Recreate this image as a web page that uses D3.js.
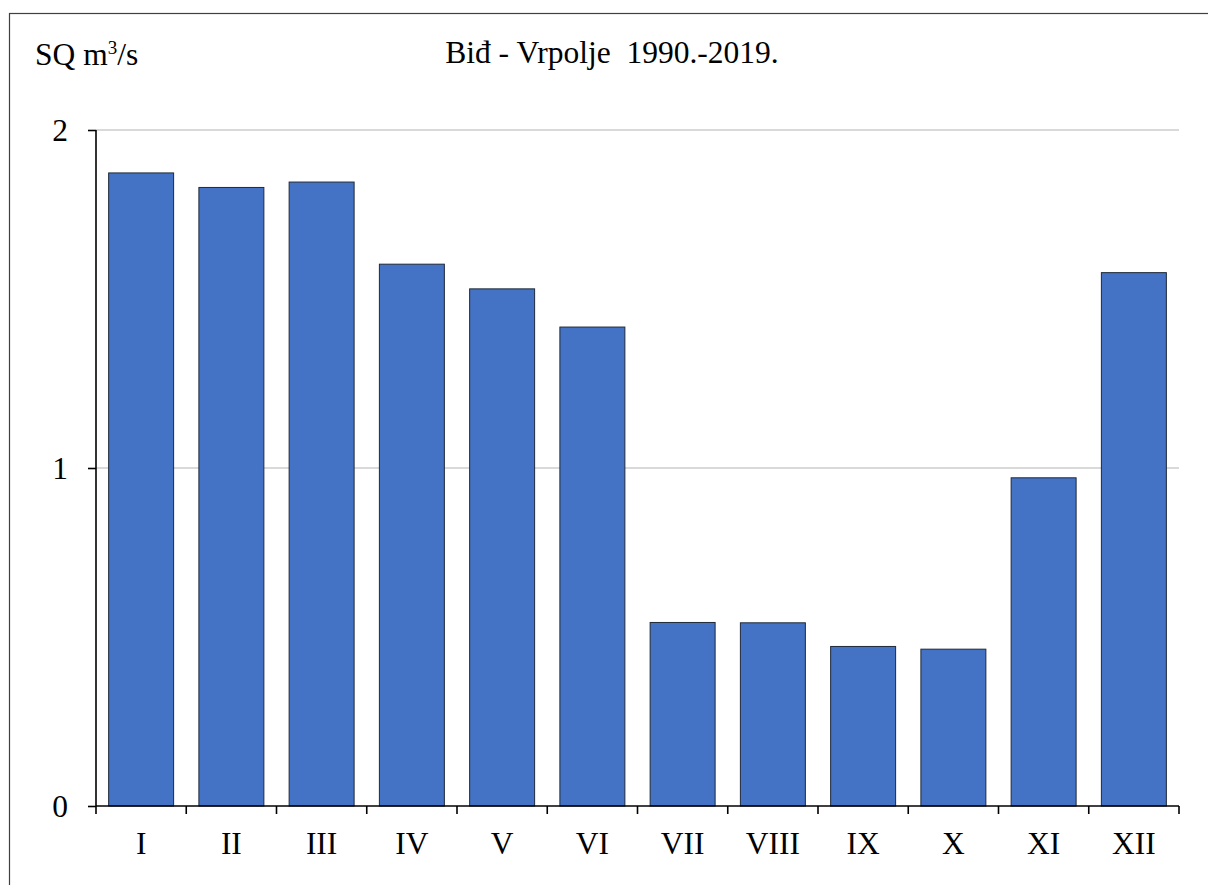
<!DOCTYPE html>
<html>
<head>
<meta charset="utf-8">
<script src="https://cdn.jsdelivr.net/npm/d3@7"></script>
<style>
  body { margin: 0; background: #fff; }
  text { font-family: "Liberation Serif", "Times New Roman", serif; fill: #000; }
</style>
</head>
<body>
<script>
// monthly mean discharge, Biđ - Vrpolje
var months = ["I", "II", "III", "IV", "V", "VI", "VII", "VIII", "IX", "X", "XI", "XII"];
var flows = [1.873, 1.830, 1.846, 1.603, 1.530, 1.417, 0.543, 0.542, 0.472, 0.464, 0.971, 1.578];
var yTicks = [0, 1, 2];

var W = 1208, H = 885;
var margin = {top: 130, right: 29, bottom: 79, left: 96},
    w = W - margin.left - margin.right,
    h = H - margin.top - margin.bottom;
var fs = "31.5px";

var svg = d3.select("body").append("svg")
    .attr("width", W)
    .attr("height", H);

// outer frame
svg.append("rect")
    .attr("x", 9.5).attr("y", 13.5)
    .attr("width", W).attr("height", H)
    .attr("fill", "none")
    .attr("stroke", "#404040")
    .attr("stroke-width", 1.2);

svg.append("text")
    .attr("x", 35).attr("y", 65)
    .style("font-size", fs)
    .html('SQ m<tspan dy="-11" style="font-size:19px">3</tspan><tspan dy="11">/s</tspan>');

svg.append("text")
    .attr("x", 612).attr("y", 63)
    .attr("text-anchor", "middle")
    .style("font-size", fs)
    .style("white-space", "pre")
    .text("Biđ - Vrpolje  1990.-2019.");

var g = svg.append("g")
    .attr("transform", "translate(" + margin.left + "," + margin.top + ")");

var xScale = d3.scaleBand()
    .domain(months)
    .range([0, w])
    .paddingInner(0.28)
    .paddingOuter(0.14);

var xTickScale = d3.scaleLinear().domain([0, months.length]).range([0, w]);

var yScale = d3.scaleLinear()
    .domain([0, 2])
    .range([h, 0]);

// gridlines
g.selectAll(".grid")
    .data(yTicks.filter(function(d) { return d > 0; }))
  .enter().append("line")
    .attr("x1", 0).attr("x2", w)
    .attr("y1", function(d) { return yScale(d); })
    .attr("y2", function(d) { return yScale(d); })
    .attr("stroke", "#b3b3b3")
    .attr("stroke-width", 1.2);

g.selectAll(".bar")
    .data(flows)
  .enter().append("rect")
    .attr("x", function(d, i) { return xScale(months[i]); })
    .attr("y", function(d) { return yScale(d); })
    .attr("width", xScale.bandwidth())
    .attr("height", function(d) { return h - yScale(d); })
    .attr("fill", "#4472C4")
    .attr("stroke", "#1f2a3a")
    .attr("stroke-width", 1);

// y axis
var yAxis = d3.axisLeft(yScale).tickValues(yTicks).tickSize(8).tickPadding(20).tickFormat(d3.format("d"));
var ya = g.append("g").call(yAxis);
ya.attr("font-family", null);
ya.select(".domain").attr("stroke", "#000").attr("stroke-width", 1.6).attr("d", "M0," + h + "V0");
ya.selectAll(".tick line").attr("stroke", "#000").attr("stroke-width", 1.6);
ya.selectAll(".tick text").style("font-size", fs).attr("fill", "#000");

// x axis: ticks at band boundaries, labels at band centers
var xa = g.append("g").attr("transform", "translate(0," + h + ")");
xa.append("line")
    .attr("x1", 0).attr("x2", w)
    .attr("stroke", "#000").attr("stroke-width", 1.6);
xa.selectAll(".xt")
    .data(d3.range(months.length + 1))
  .enter().append("line")
    .attr("x1", function(d) { return xTickScale(d); })
    .attr("x2", function(d) { return xTickScale(d); })
    .attr("y1", 0).attr("y2", 8)
    .attr("stroke", "#000").attr("stroke-width", 1.6);
xa.selectAll(".xl")
    .data(months)
  .enter().append("text")
    .attr("x", function(d) { return xScale(d) + xScale.bandwidth() / 2; })
    .attr("y", 48)
    .attr("text-anchor", "middle")
    .style("font-size", fs)
    .text(function(d) { return d; });
</script>
</body>
</html>
